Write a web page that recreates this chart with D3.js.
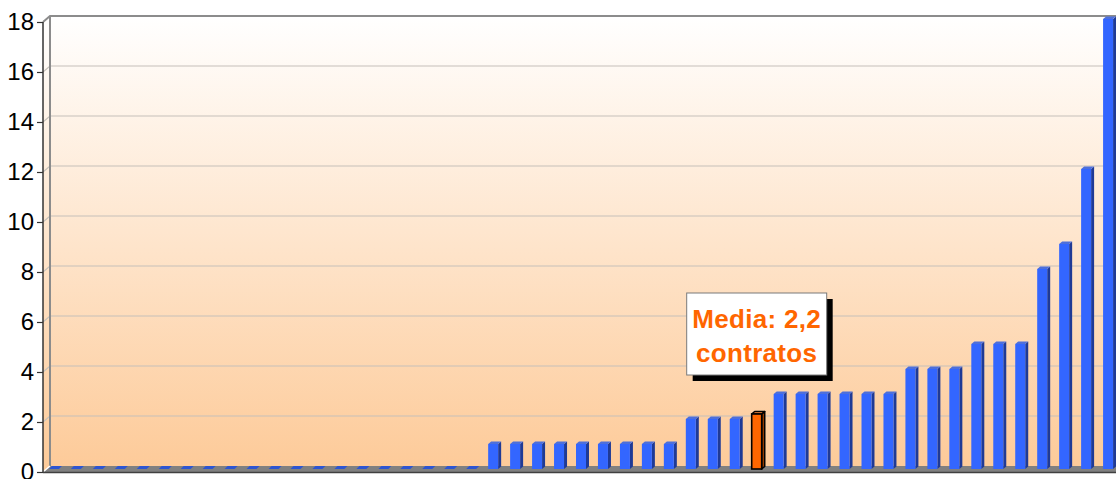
<!DOCTYPE html>
<html>
<head>
<meta charset="utf-8">
<script src="https://cdn.jsdelivr.net/npm/d3@7"></script>
<style>
  body { margin: 0; background: #ffffff; }
  svg { display: block; }
</style>
</head>
<body>
<script>

// DIMENSIONI
//
var width = 1116;
var height = 479;

// DATI DEL GRAFICO
//
var valores = [
  0, 0, 0, 0, 0, 0, 0, 0, 0, 0,
  0, 0, 0, 0, 0, 0, 0, 0, 0, 0,
  1, 1, 1, 1, 1, 1, 1, 1, 1,
  2, 2, 2,
  2.2,
  3, 3, 3, 3, 3, 3,
  4, 4, 4,
  5, 5, 5,
  8, 9, 12, 18
];
var indiceMedia = 32;
var etiquetaMedia = ["Media: 2,2", "contratos"];
var yTicks = [0, 2, 4, 6, 8, 10, 12, 14, 16, 18];

// GEOMETRIA 3D
//
var depthX = 7, depthY = 6;     // profondita del pavimento
var barDepth = 3;               // profondita delle barre
var plotLeft = 43, plotRight = 1119;
var frontBottom = 472, frontTop = 22;

var svg = d3.select("body").append("svg")
  .attr("width", width)
  .attr("height", height);

// SCALE
//
var x = d3.scaleBand()
  .domain(d3.range(valores.length))
  .range([plotLeft, plotRight])
  .paddingInner(0.545)
  .paddingOuter(0.27);

var yFront = d3.scaleLinear().domain([0, 18]).range([frontBottom, frontTop]);
var yBack = d3.scaleLinear().domain([0, 18]).range([frontBottom - depthY, frontTop - depthY]);
var yBar = d3.scaleLinear().domain([0, 18]).range([frontBottom - barDepth, frontTop - barDepth]);

// SFONDO CON GRADIENTE
//
var defs = svg.append("defs");
var grad = defs.append("linearGradient")
  .attr("id", "fondo")
  .attr("gradientUnits", "userSpaceOnUse")
  .attr("x1", 0).attr("y1", yBack(18))
  .attr("x2", 0).attr("y2", yFront(0));
grad.append("stop").attr("offset", "0%").attr("stop-color", "#ffffff");
grad.append("stop").attr("offset", "100%").attr("stop-color", "#fdca98");

// parete di fondo + parete sinistra
svg.append("path")
  .attr("d", "M" + plotLeft + "," + yFront(0) +
    "L" + plotLeft + "," + yFront(18) +
    "L" + (plotLeft + depthX) + "," + yBack(18) +
    "L" + width + "," + yBack(18) +
    "L" + width + "," + yBack(0) +
    "L" + (plotLeft + depthX) + "," + yBack(0) + "Z")
  .attr("fill", "url(#fondo)");

// GRIGLIA
//
var grid = svg.append("g");
yTicks.filter(function(d) { return d > 0 && d < 18; }).forEach(function(t) {
  grid.append("path")
    .attr("d", "M" + plotLeft + "," + yFront(t) +
      "L" + (plotLeft + depthX) + "," + yBack(t) +
      "L" + width + "," + yBack(t))
    .attr("fill", "none")
    .attr("stroke", "#c6c0ba")
    .attr("stroke-width", 1.2);
});

// bordo della parete di fondo
svg.append("path")
  .attr("d", "M" + plotLeft + "," + yFront(18) +
    "L" + (plotLeft + depthX) + "," + yBack(18) +
    "L" + width + "," + yBack(18))
  .attr("fill", "none")
  .attr("stroke", "#8c8c8c")
  .attr("stroke-width", 2);
svg.append("line")
  .attr("x1", plotLeft + depthX).attr("x2", plotLeft + depthX)
  .attr("y1", yBack(18)).attr("y2", yBack(0))
  .attr("stroke", "#8c8c8c")
  .attr("stroke-width", 2);

// PAVIMENTO
//
svg.append("path")
  .attr("d", "M" + plotLeft + "," + yFront(0) +
    "L" + (plotLeft + depthX) + "," + yBack(0) +
    "L" + width + "," + yBack(0) +
    "L" + width + "," + yFront(0) + "Z")
  .attr("fill", "#808080");
svg.append("path")
  .attr("d", "M" + plotLeft + "," + yFront(0) + "L" + (plotLeft + depthX) + "," + yBack(0))
  .attr("stroke", "#ffffff")
  .attr("stroke-width", 1.5);
svg.append("line")
  .attr("x1", plotLeft).attr("x2", width)
  .attr("y1", yFront(0) + 0.5).attr("y2", yFront(0) + 0.5)
  .attr("stroke", "#404040")
  .attr("stroke-width", 1.5);

// BARRE
//
var bw = x.bandwidth();
var base = yBar(0);
var topDepth = 2.5;

function colori(i) {
  if (i === indiceMedia) return { front: "#ff6600", side: "#a84300", top: "#ff8c40", stroke: "#000000" };
  return { front: "#3366ff", side: "#1f3a96", top: "#4d6fdc", stroke: "none" };
}

var bars = svg.append("g").selectAll("g.bar")
  .data(valores)
  .enter().append("g")
  .attr("class", "bar");

bars.each(function(v, i) {
  var g = d3.select(this);
  var c = colori(i);
  var x0 = x(i);
  var yt = yBar(v);

  if (v === 0) {
    g.append("path")
      .attr("d", "M" + x0 + "," + base +
        "L" + (x0 + barDepth) + "," + (base - barDepth) +
        "L" + (x0 + bw + barDepth) + "," + (base - barDepth) +
        "L" + (x0 + bw) + "," + base + "Z")
      .attr("fill", "#2d55d2");
    return;
  }

  var sw = c.stroke === "none" ? 0 : 1.6;

  g.append("path")
    .attr("d", "M" + (x0 + bw) + "," + yt +
      "L" + (x0 + bw + barDepth) + "," + (yt - topDepth) +
      "L" + (x0 + bw + barDepth) + "," + (base - topDepth) +
      "L" + (x0 + bw) + "," + base + "Z")
    .attr("fill", c.side)
    .attr("stroke", c.stroke)
    .attr("stroke-width", sw)
    .attr("stroke-linejoin", "round");

  g.append("path")
    .attr("d", "M" + x0 + "," + yt +
      "L" + (x0 + barDepth) + "," + (yt - topDepth) +
      "L" + (x0 + bw + barDepth) + "," + (yt - topDepth) +
      "L" + (x0 + bw) + "," + yt + "Z")
    .attr("fill", c.top)
    .attr("stroke", c.stroke)
    .attr("stroke-width", sw)
    .attr("stroke-linejoin", "round");

  g.append("rect")
    .attr("x", x0)
    .attr("y", yt)
    .attr("width", bw)
    .attr("height", base - yt)
    .attr("fill", c.front)
    .attr("stroke", c.stroke)
    .attr("stroke-width", sw);
});

// ASSE Y
//
var yAxis = svg.append("g")
  .attr("transform", "translate(" + plotLeft + ",0)")
  .call(d3.axisLeft(yFront).tickValues(yTicks).tickSize(6).tickPadding(3));

yAxis.select(".domain")
  .attr("stroke", "#333333")
  .attr("stroke-width", 1.5)
  .attr("d", "M0," + frontTop + "V" + frontBottom);
yAxis.selectAll(".tick line").attr("stroke", "#333333").attr("stroke-width", 1.2);
yAxis.selectAll(".tick text")
  .attr("fill", "#000000")
  .style("font-family", "'Liberation Sans', Arial, sans-serif")
  .style("font-size", "24px");

// ETICHETTA DELLA MEDIA
//
var cx = x(indiceMedia) + bw / 2;
var boxW = 140, boxH = 82;
var boxX = cx - boxW / 2;
var boxY = yBar(valores[indiceMedia]) - 121;

svg.append("rect")
  .attr("x", boxX + 6).attr("y", boxY + 6)
  .attr("width", boxW).attr("height", boxH)
  .attr("fill", "#000000");
svg.append("rect")
  .attr("x", boxX).attr("y", boxY)
  .attr("width", boxW).attr("height", boxH)
  .attr("fill", "#ffffff")
  .attr("stroke", "#7a7a7a")
  .attr("stroke-width", 1);

svg.append("g").selectAll("text")
  .data(etiquetaMedia)
  .enter().append("text")
  .attr("x", cx)
  .attr("y", function(d, i) { return boxY + 35 + i * 34; })
  .attr("text-anchor", "middle")
  .attr("fill", "#ff6600")
  .style("font-family", "'Liberation Sans', Arial, sans-serif")
  .style("font-weight", "bold")
  .style("font-size", "26px")
  .style("letter-spacing", "0.3px")
  .text(function(d) { return d; });

</script>
</body>
</html>
